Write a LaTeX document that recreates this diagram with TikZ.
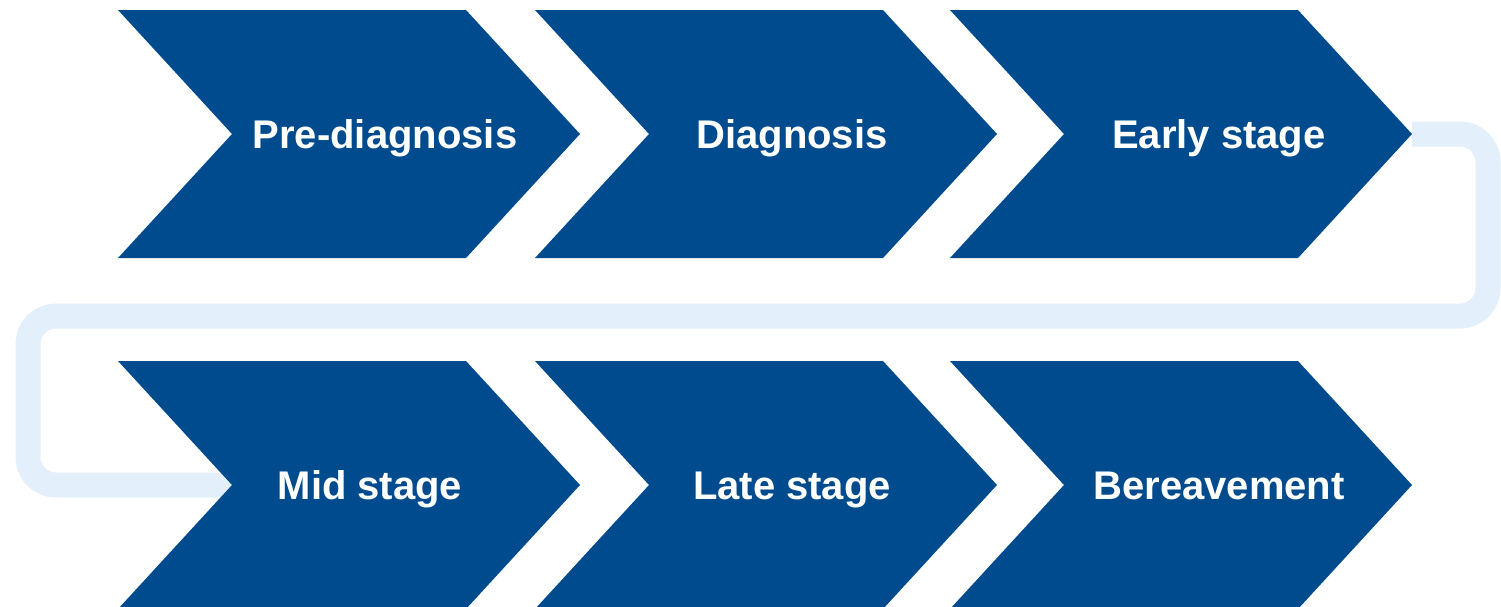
\documentclass[tikz,border=0pt]{standalone}
\usepackage{fontspec}
\setmainfont{Liberation Sans}
\usepackage{tikz}
\usetikzlibrary{positioning}
\definecolor{stageblue}{RGB}{0,75,141}
\definecolor{bandblue}{RGB}{227,239,250}
\tikzset{
        stage/.style={fill=stageblue, draw=none},
        stagelabel/.style={text=white, inner sep=0pt, anchor=base,
          font=\bfseries\fontsize{20}{24}\selectfont},
        loopband/.style={draw=bandblue, line width=12.5pt, rounded corners=14pt},
}
\begin{document}
\begin{tikzpicture}[x=0.5pt, y=-0.5pt]
      \useasboundingbox (0,0) rectangle (1501,606);
      % tips and notches
      \coordinate (earlytip) at (1412,134);
      \coordinate (midnotch) at (232,485);

      % loop back from top row to bottom row
      \draw[loopband] (earlytip) -- (earlytip -| 1488,0) -- (1488,316) -- (28,316)
        -- (28,0 |- midnotch) -- (midnotch);

      % TOP ROW
      \fill[stage] (118,10) -- ++(348,0) -- ++(114,124) -- ++(-114,124) -- ++(-348,0) -- ++(114,-124) -- cycle;
      \fill[stage] (535,10) -- ++(348,0) -- ++(114,124) -- ++(-114,124) -- ++(-348,0) -- ++(114,-124) -- cycle;
      \fill[stage] (950,10) -- ++(348,0) -- ++(114,124) -- ++(-114,124) -- ++(-348,0) -- ++(114,-124) -- cycle;
      \node[stagelabel] (prediag) at (385,148) {Pre-diagnosis};
      \node[stagelabel] (diag) at (792,148) {Diagnosis};
      \node[stagelabel] (early) at (1219,148) {Early stage};

      % BOTTOM ROW
      \fill[stage] (118,361) -- ++(348,0) -- ++(114,124) -- ++(-114,124) -- ++(-348,0) -- ++(114,-124) -- cycle;
      \fill[stage] (535,361) -- ++(348,0) -- ++(114,124) -- ++(-114,124) -- ++(-348,0) -- ++(114,-124) -- cycle;
      \fill[stage] (950,361) -- ++(348,0) -- ++(114,124) -- ++(-114,124) -- ++(-348,0) -- ++(114,-124) -- cycle;
      \node[stagelabel] (mid) at (370,499) {Mid stage};
      \node[stagelabel] (late) at (792,499) {Late stage};
      \node[stagelabel] (bereave) at (1219,499) {Bereavement};
\end{tikzpicture}
\end{document}
